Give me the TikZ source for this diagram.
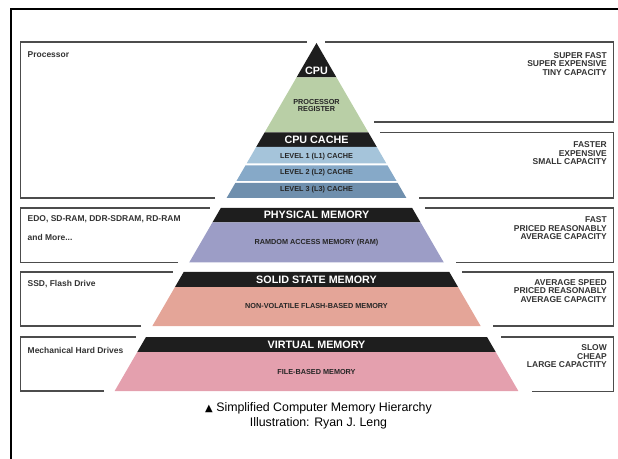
\documentclass[tikz,border=0pt]{standalone}
\usepackage{fontspec}
\setmainfont{Liberation Sans}
\newfontfamily\trifont{DejaVu Sans}
\usepackage{xcolor}
\definecolor{mydark}{RGB}{30,30,30}
\definecolor{mygreen}{RGB}{185,207,166}
\definecolor{myblueA}{RGB}{165,196,218}
\definecolor{myblueB}{RGB}{134,169,200}
\definecolor{myblueC}{RGB}{111,143,173}
\definecolor{mypurple}{RGB}{156,157,198}
\definecolor{mysalmon}{RGB}{228,165,152}
\definecolor{mypink}{RGB}{228,160,174}

\begin{document}
\begin{tikzpicture}[
		x=1bp, y=-1bp,
		band/.style={font=\bfseries\fontsize{10.8}{12}\selectfont, text=white, inner sep=0pt},
		layer/.style={font=\bfseries\fontsize{7.3}{7.4}\selectfont, text=black!85, align=center, inner sep=0pt},
		lefttext/.style={anchor=west, font=\bfseries\fontsize{8.5}{9}\selectfont, text=black!80, inner sep=0pt},
		righttext/.style={anchor=north east, align=right, font=\bfseries\fontsize{8.5}{8.7}\selectfont, text=black!80, inner sep=0pt},
		frame/.style={draw=black!70, line width=1.1bp},
		caption/.style={font=\fontsize{12.4}{15}\selectfont, align=center, inner sep=0pt}
		]
		
		% Page size and outer border
		\useasboundingbox (0,0) rectangle (618,459);
		\draw[line width=2bp] (10.5,459) -- (10.5,9) -- (618,9);
		
		% Pyramid layers
		\foreach \ytop/\ybot/\col in {43/77.5/mydark, 77.5/132.5/mygreen, 132.5/147/mydark, 147/163.5/myblueA, 165.5/181/myblueB, 183/198/myblueC, 208/222.5/mydark, 222.5/262.5/mypurple, 272/287/mydark, 287/326/mysalmon, 337/352/mydark, 352/391/mypink}
			\fill[\col] ({316.5-0.58*(\ytop-43)},\ytop) -- ({316.5+0.58*(\ytop-43)},\ytop) -- ({316.5+0.58*(\ybot-43)},\ybot) -- ({316.5-0.58*(\ybot-43)},\ybot) -- cycle;
		
		% Left boxes
		\draw[frame] (215,198) -| (20.5,42) -- (307,42);
		\draw[frame] (178,262.5) -| (20.5,208) -- (209.5,208);
		\draw[frame] (141,326) -| (20.5,272) -- (172.5,272);
		\draw[frame] (104,391) -| (20.5,337) -- (136,337);
		
		% Right boxes
		\draw[frame] (325,42) -| (613.5,122) -- (373.5,122);
		\draw[frame] (380,132.5) -| (613.5,198) -- (419,198);
		\draw[frame] (425,208) -| (613.5,262.5) -- (456,262.5);
		\draw[frame] (462,272) -| (613.5,326) -- (493,326);
		\draw[frame] (501,337) -| (613.5,391.5) -- (532,391.5);
		
		% CPU
		\node[band] (cpu) at (316.5,70.7) {CPU};
		\node[layer] (reg) at (316.5,105.3) {PROCESSOR\\REGISTER};
		\node[band] (cache) at (316.5,140) {CPU CACHE};
		\node[layer] (l1) at (316.5,156.5) {LEVEL 1 (L1) CACHE};
		\node[layer] (l2) at (316.5,172.7) {LEVEL 2 (L2) CACHE};
		\node[layer] (l3) at (316.5,189.3) {LEVEL 3 (L3) CACHE};
		\node[lefttext] (proc) at (27.5,55) {Processor};
		\node[righttext] (cpu-info) at (607,52) {SUPER FAST\\SUPER EXPENSIVE\\TINY CAPACITY};
		\node[righttext] (cache-info) at (607,141.3) {FASTER\\EXPENSIVE\\SMALL CAPACITY};
		
		% Physical memory
		\node[band] (phys) at (316.5,215) {PHYSICAL MEMORY};
		\node[layer] (ram) at (316.5,242.7) {RAMDOM ACCESS MEMORY (RAM)};
		\node[lefttext] (phys-list) at (27.5,219.3) {EDO, SD-RAM, DDR-SDRAM, RD-RAM};
		\node[lefttext] (phys-more) at (27.5,237) {and More...};
		\node[righttext] (phys-info) at (607,216.3) {FAST\\PRICED REASONABLY\\AVERAGE CAPACITY};
		
		% Solid state memory
		\node[band] (ssd) at (316.5,280) {SOLID STATE MEMORY};
		\node[layer] (flash) at (316.5,306) {NON-VOLATILE FLASH-BASED MEMORY};
		\node[lefttext] (ssd-list) at (27.5,284.3) {SSD, Flash Drive};
		\node[righttext] (ssd-info) at (607,279) {AVERAGE SPEED\\PRICED REASONABLY\\AVERAGE CAPACITY};
		
		% Virtual memory
		\node[band] (virt) at (316.5,345) {VIRTUAL MEMORY};
		\node[layer] (file) at (316.5,371.7) {FILE-BASED MEMORY};
		\node[lefttext] (virt-list) at (27.5,350.3) {Mechanical Hard Drives};
		\node[righttext] (virt-info) at (607,344.3) {SLOW\\CHEAP\\LARGE CAPACTITY};
		
		% Caption
		\node[caption] (cap) at (318.5,415.5) {{\trifont\fontsize{10}{15}\selectfont ▲} Simplified Computer Memory Hierarchy\\Illustration: Ryan J. Leng};
	\end{tikzpicture}
\end{document}
